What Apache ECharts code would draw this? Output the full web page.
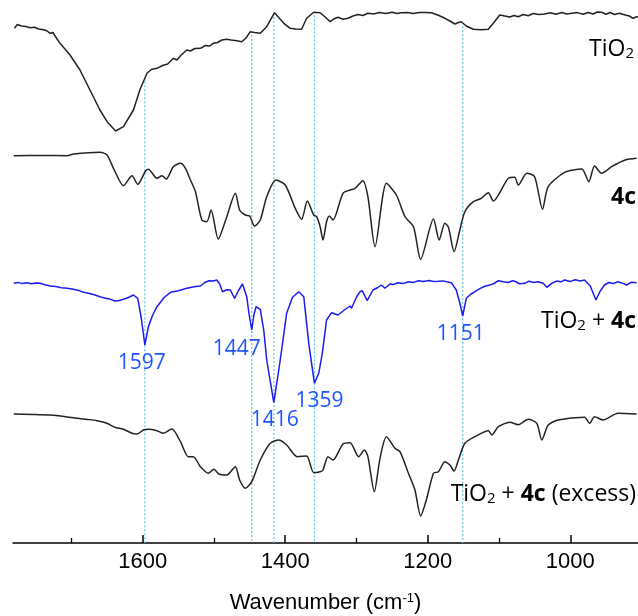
<!DOCTYPE html>
<html>
<head>
<meta charset="utf-8">
<script src="https://cdn.jsdelivr.net/npm/echarts@6/dist/echarts.min.js"></script>
<style>
  html, body { margin: 0; padding: 0; background: #ffffff; }
  #chart { width: 638px; height: 616px; }
</style>
</head>
<body>
<div id="chart"></div>
<script>
// IR spectra, [wavenumber (cm-1), stacked transmittance (arb. units)]

const tio2 = [
  [1780,514.7],[1776,518.5],[1770,517],[1764,516.5],[1758,515.3],[1752,515.8],[1746,514],[1739,513.2],
  [1734,512],[1730,509.7],[1726,510.5],[1722,506],[1716,499.7],[1702,488],[1688,473],[1674,453],
  [1660,433],[1650,421.3],[1638,412],[1627,416.3],[1613,433],[1604,453],[1594,469.7],[1588,473.5],
  [1580,474.7],[1572,477.5],[1565,479],[1557,484.7],[1552,483],[1546,488],[1538,493],[1533,492],
  [1527,494.5],[1519,494.7],[1512,497.5],[1506,497],[1501,499.7],[1495,500.5],[1489,503],[1482,503.7],
  [1476,503],[1470,502.5],[1461,501.3],[1455,505],[1449,511.3],[1443,510.5],[1435,509.7],[1426,516.3],
  [1415,530.3],[1402,519.7],[1393,514.7],[1385,514],[1377,513.7],[1370,524.7],[1360,530.7],[1351,530.3],
  [1344,526],[1337,521.3],[1332,524],[1326,525.7],[1319,523.8],[1312,524.7],[1305,527],[1298,528.5],
  [1291,527.5],[1284,529.7],[1276,529],[1268,530.5],[1259,529.5],[1250,530.8],[1243,529.6],[1237,530.3],
  [1229,530.6],[1220,529.5],[1212,530.5],[1203,530.4],[1195,530.3],[1186,528],[1176,524.7],[1169,522],
  [1162,519],[1157,520.5],[1153,521.3],[1146,517],[1136,513.7],[1125,513.2],[1115,513.7],[1108,519.7],
  [1099,528],[1092,527],[1085,526],[1079,527.5],[1073,526.3],[1066,528.5],[1059,527.3],[1052,529.5],
  [1044,528.4],[1036,529],[1028,530.2],[1020,528.8],[1012,530.5],[1005,529],[998,529.7],[990,530.4],
  [982,528.7],[975,530.5],[968,529],[962,531],[956,530.7],[950,528.8],[944,530.5],[938,528.5],
  [931,529.8],[923,528],[917,527],[912,524.7],[908,526],[905,526.3]
];

const ligand4c = [
  [1781,387.3],[1740,387.5],[1706,387.3],[1697,389],[1660,390.7],[1650,388],[1641,374.7],[1627,357.3],
  [1615,367.3],[1607,358.7],[1596,372],[1592,373.7],[1580,364.7],[1573,367.3],[1567,364],[1557,376.3],
  [1547,379.7],[1540,374.7],[1533,363],[1526,351.3],[1517,323],[1510,321.3],[1504,333],[1494,304],
  [1482,326.3],[1470,349.7],[1464,333],[1456,328],[1450,327],[1443,317],[1435,323],[1426,346.3],
  [1413,363],[1400,358],[1386,334.7],[1377,323.7],[1369,342],[1360,328],[1356,326.3],[1351,316.3],
  [1347,303],[1342,321.3],[1338,327],[1333,323],[1319,349.7],[1309,353],[1302,354.7],[1291,362.3],
  [1284,346.3],[1274,296.3],[1258,359.7],[1244,348],[1232,326.3],[1220,316.3],[1210,283.7],[1192,324],
  [1184,303],[1176,319.7],[1171,315.7],[1163,291.3],[1155,313],[1148,331.3],[1136,341.3],[1125,344.7],
  [1115,350.3],[1108,342],[1087,364.7],[1078,365.7],[1073,358],[1061,369.7],[1050,366.3],[1039,333.7],
  [1031,356.3],[1008,370.7],[984,374],[974,361.3],[966,377],[956,369.7],[942,376.3],[923,383],[907,384.7]
];

const tio2With4c = [
  [1781,259.7],[1775,260.6],[1769,259.4],[1763,260.3],[1756,259.2],[1750,259.9],[1744,259.7],[1737,258.2],
  [1730,257],[1722,256.4],[1714,255.2],[1706,254.7],[1697,253.7],[1690,252.6],[1683,250.7],[1676,249.8],
  [1668,248.2],[1660,246.3],[1652,244.8],[1646,243.9],[1639,242],[1633,242.6],[1627,243.7],[1620,245.5],
  [1613,248],[1607,244.7],[1602,225],[1597,198],[1592,216.3],[1586,228],[1580,236.3],[1570,245.5],
  [1561,250.7],[1550,252.3],[1538,254.7],[1528,256.3],[1519,257],[1513,260.5],[1507,262.3],[1501,262],
  [1496,263],[1492,259],[1488,251.3],[1482,253.2],[1477,253],[1471,244.7],[1466,252],[1460,259],
  [1454,246.3],[1451,230],[1447,213],[1444,228],[1441,236.3],[1435,233.7],[1430,212],[1426,183],
  [1416,140.3],[1407,183],[1398,229.7],[1390,245.5],[1381,251.3],[1374,246.3],[1367,199.7],[1359,159.7],
  [1353,169.7],[1348,189.7],[1342,223],[1335,230.3],[1326,228],[1318,232.5],[1309,237],[1307,234.7],
  [1300,246],[1295,251.3],[1292,252.3],[1285,242.3],[1277,253],[1270,255.5],[1265,258],[1260,254.7],
  [1253,259],[1248,258.4],[1242,260.3],[1234,259.6],[1227,261.2],[1220,260.6],[1213,262.3],[1206,261.4],
  [1198,262.6],[1192,261.5],[1185,261.7],[1178,262.1],[1172,260.9],[1167,260.3],[1160,253],[1155,240],
  [1151,227],[1146,244.7],[1140,248.5],[1134,251.3],[1127,254.4],[1120,256.8],[1113,257.9],[1107,259.5],
  [1101,262.3],[1094,261.2],[1087,260.5],[1081,262.2],[1078,261.7],[1071,259.3],[1064,259.7],[1058,261.8],
  [1051,260.5],[1045,261.3],[1038,259.8],[1033,255.7],[1026,259.7],[1019,261.9],[1013,261.2],[1008,263],
  [1000,261.6],[993,263.2],[986,261.9],[980,263],[972,257],[964,243],[958,252],[952,258],
  [946,260.5],[940,259.4],[933,261.3],[926,259.6],[921,258],[914,260.8],[907,260.3]
];

const tio2With4cExcess = [
  [1781,129],[1755,128.6],[1730,128],[1710,126.6],[1692,124.7],[1678,123.6],[1664,122.3],[1650,119.7],
  [1639,115.7],[1627,113.7],[1615,109.7],[1608,109],[1599,113],[1592,113.7],[1580,112.3],[1571,109.7],
  [1559,114],[1547,101.3],[1536,86.3],[1529,86.3],[1519,76.3],[1508,69.7],[1500,73.7],[1493,69],
  [1482,68],[1470,76.3],[1464,63],[1456,54.7],[1447,61.3],[1435,83],[1421,99.7],[1409,103],
  [1398,98],[1383,86.3],[1370,87],[1360,70.3],[1351,71.3],[1347,73],[1340,86.3],[1333,83],
  [1319,99],[1309,100.3],[1297,86.3],[1289,93],[1284,86.3],[1275,51.3],[1267,84.7],[1258,106.3],
  [1246,94.7],[1239,91.3],[1228,71.3],[1218,53],[1210,27],[1202,43],[1192,69.7],[1185,71.3],
  [1176,81.3],[1169,78],[1163,72],[1157,83],[1148,99.7],[1134,106.3],[1115,112.3],[1110,108],
  [1101,116.3],[1085,120.7],[1073,118.3],[1059,123.7],[1047,119.7],[1040,103],[1031,118],[1017,123],
  [980,125.7],[973,119.7],[966,126.3],[954,123],[933,129.7],[907,129]
];

const peakWavenumbers = [1597, 1447, 1416, 1359, 1151];
const majorTickValues = [1600, 1400, 1200, 1000];
const minorTickValues = [1700, 1500, 1300, 1100];

// linear interpolation along a spectrum stored with descending wavenumber
function valueAt(spectrum, wn) {
  for (let i = 0; i < spectrum.length - 1; i++) {
    const a = spectrum[i], b = spectrum[i + 1];
    if (wn <= a[0] && wn >= b[0]) {
      const t = (a[0] - wn) / (a[0] - b[0]);
      return a[1] + t * (b[1] - a[1]);
    }
  }
  return spectrum[spectrum.length - 1][1];
}

const chart = echarts.init(document.getElementById('chart'), null, { renderer: 'canvas' });

const X_MIN = 905, X_MAX = 1782;
const blue = '#1c1cf2';
const peakBlue = '#1f55ff';
const guideColor = '#5ec4f0';
const axisFont = 'Liberation Sans, Arial, sans-serif';

// dotted guides from the TiO2 trace down to the axis
const guideSeries = peakWavenumbers.map(wn => ({
  type: 'line',
  data: [[wn, valueAt(tio2, wn) - 3], [wn, 0]],
  showSymbol: false,
  silent: true,
  z: 1,
  lineStyle: { color: guideColor, width: 1.2, type: [2, 2] }
}));

const labelOffsets = {
  1597: [-3, 18], 1447: [-15, 19], 1416: [1, 17], 1359: [5, 18], 1151: [-2, 18]
};

const traceStyle = (color) => ({ color: color, width: 1.5 });

function richTrace() {
  const fam = 'Open Sans, sans-serif';
  return {
    n: { fontFamily: fam, fontSize: 23, color: '#111', lineHeight: 28, verticalAlign: 'bottom' },
    b: { fontFamily: fam, fontSize: 23, fontWeight: 'bold', color: '#111', lineHeight: 28, verticalAlign: 'bottom' },
    s: { fontFamily: fam, fontSize: 15, color: '#111', lineHeight: 15, verticalAlign: 'bottom' }
  };
}

const option = {
  animation: false,
  backgroundColor: '#ffffff',
  grid: { left: 13, right: 0, top: 0, bottom: 73, containLabel: false, outerBoundsMode: 'none' },
  xAxis: [
    {
      type: 'value', min: X_MIN, max: X_MAX, inverse: true,
      splitLine: { show: false },
      axisLine: { show: true, onZero: false, lineStyle: { color: '#000', width: 1.5 } },
      axisTick: { show: true, inside: true, length: 8, customValues: majorTickValues,
                  lineStyle: { color: '#000', width: 1.5 } },
      axisLabel: { show: true, customValues: majorTickValues, margin: 8, color: '#000',
                   fontFamily: axisFont, fontSize: 22,
                   formatter: (v) => String(Math.round(v)) },
      name: 'Wavenumber (cm{sup|-1})',
      nameLocation: 'middle',
      nameGap: 49,
      nameTextStyle: {
        color: '#000', fontFamily: axisFont, fontSize: 22,
        rich: { sup: { fontSize: 13, verticalAlign: 'top', lineHeight: 14,
                       fontFamily: axisFont, color: '#000' } }
      }
    },
    {
      type: 'value', min: X_MIN, max: X_MAX, inverse: true, position: 'bottom',
      splitLine: { show: false },
      axisLine: { show: false },
      axisTick: { show: true, inside: true, length: 5, customValues: minorTickValues,
                  lineStyle: { color: '#000', width: 1.3 } },
      axisLabel: { show: false }
    }
  ],
  yAxis: { type: 'value', min: 0, max: 543, show: false },
  series: [
    ...guideSeries,
    { type: 'line', name: 'TiO2', data: tio2, showSymbol: false, z: 3, lineStyle: traceStyle('#222') },
    { type: 'line', name: '4c', data: ligand4c, showSymbol: false, smooth: 0.25, z: 3, lineStyle: traceStyle('#222') },
    {
      type: 'line', name: 'TiO2 + 4c', data: tio2With4c, showSymbol: false, z: 3,
      lineStyle: traceStyle(blue),
      markPoint: {
        symbol: 'circle', symbolSize: 1,
        itemStyle: { color: 'rgba(0,0,0,0)' },
        label: { show: true, position: 'inside', formatter: '{c}', color: peakBlue,
                 fontFamily: 'Open Sans, sans-serif', fontSize: 21 },
        data: peakWavenumbers.map(wn => ({
          coord: [wn, valueAt(tio2With4c, wn)], value: wn,
          label: { offset: labelOffsets[wn] }
        }))
      }
    },
    { type: 'line', name: 'TiO2 + 4c (excess)', data: tio2With4cExcess, showSymbol: false, smooth: 0.25, z: 3, lineStyle: traceStyle('#222') }
  ],
  graphic: [
    { type: 'text', right: 4, top: 38, style: { text: '{n|TiO}{s|2}', rich: richTrace() } },
    { type: 'text', right: 2, top: 186, style: { text: '{b|4c}', rich: richTrace() } },
    { type: 'text', right: 2, top: 310, style: { text: '{n|TiO}{s|2}{n| + }{b|4c}', rich: richTrace() } },
    { type: 'text', right: 2, top: 483, style: { text: '{n|TiO}{s|2}{n| + }{b|4c}{n| (excess)}', rich: richTrace() } }
  ]
};

chart.setOption(option);
</script>
</body>
</html>
